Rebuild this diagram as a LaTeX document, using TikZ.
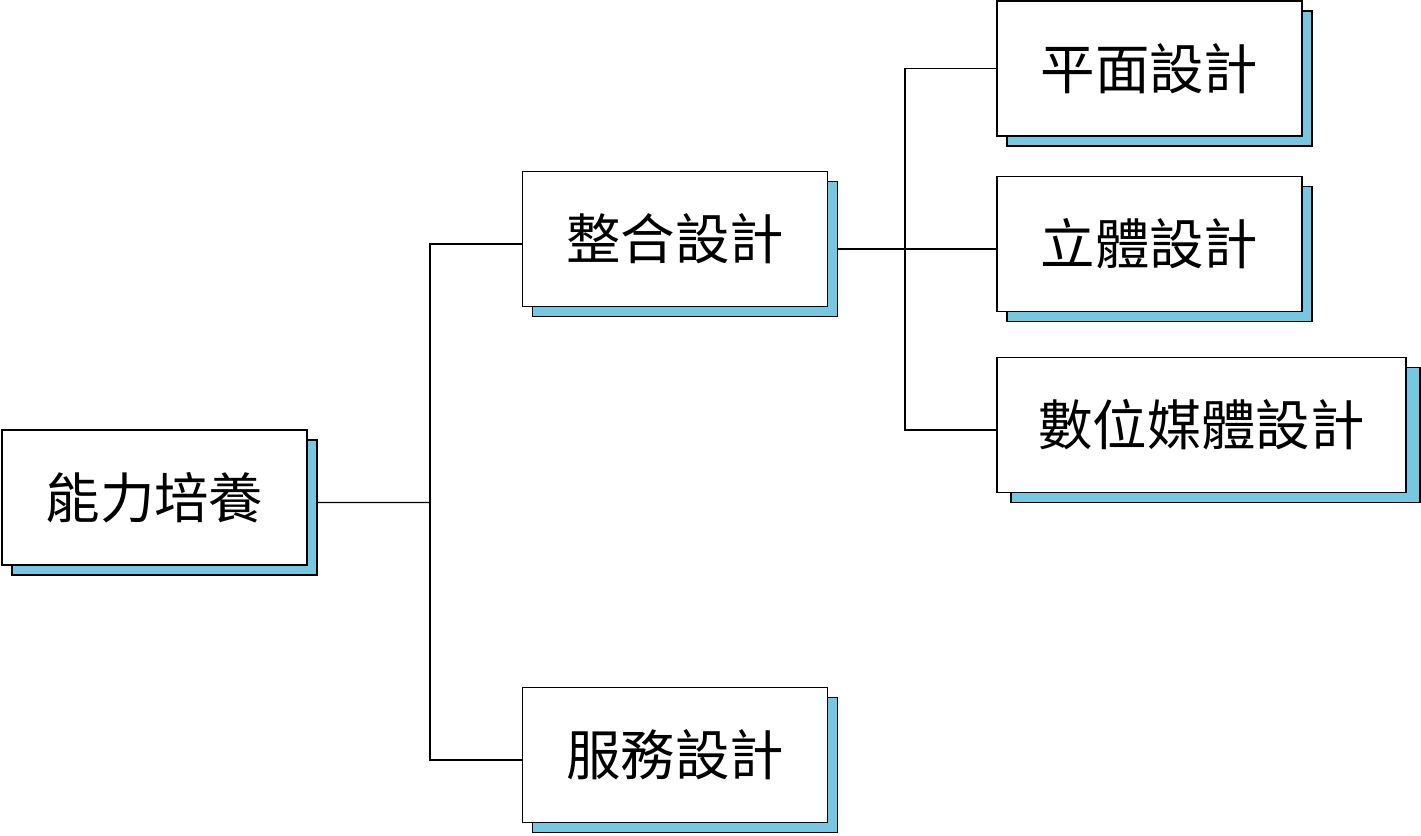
\documentclass[tikz,border=0pt]{standalone}
\usepackage{fontspec}
\newfontfamily\cjk{Noto Sans CJK TC}
\usetikzlibrary{shadows}
\definecolor{shadowblue}{RGB}{118,200,226}

\tikzset{
    card/.style = {rectangle, draw = black, line width = 1pt, fill = white,
        minimum width = 6.1cm, minimum height = 2.7cm, inner sep = 0pt,
        font = \cjk\fontsize{31}{36}\selectfont,
        copy shadow = {shadow xshift = #1, shadow yshift = -0.2cm,
            fill = shadowblue, draw = black, line width = 1pt}},
    card/.default = 0.2cm,
    link/.style = {draw = black, line width = 0.8pt}
}

\begin{document}
\begin{tikzpicture}
            \useasboundingbox (0, 0) rectangle (28.42, 16.7);

            \node[card] (root) at (3.09, 6.75) {能力培養};
            \node[card] (integ) at (13.5, 11.92) {整合設計};
            \node[card] (service) at (13.5, 1.6) {服務設計};
            \node[card] (flat) at (22.99, 15.33) {平面設計};
            \node[card] (solid) at (22.99, 11.82) {立體設計};
            \node[card = 0.28cm, minimum width = 8.18cm] (media) at (24.03, 8.2) {數位媒體設計};

            \coordinate (fork1) at (8.6, 6.65);
            \coordinate (fork2) at (18.1, 11.72);

            % first level
            \draw [link] ([shift = {(0.2, -0.1)}]root.east) -- (fork1);
            \draw [link] ([yshift = -0.1cm]integ.west) -| (fork1) |- ([yshift = -0.1cm]service.west);

            % second level
            \draw [link] ([shift = {(0.2, -0.2)}]integ.east) -- (fork2);
            \draw [link] (fork2) -- ([yshift = -0.1cm]solid.west);
            \draw [link] (flat.west) -| (fork2) |- ([yshift = -0.1cm]media.west);
        \end{tikzpicture}
\end{document}
